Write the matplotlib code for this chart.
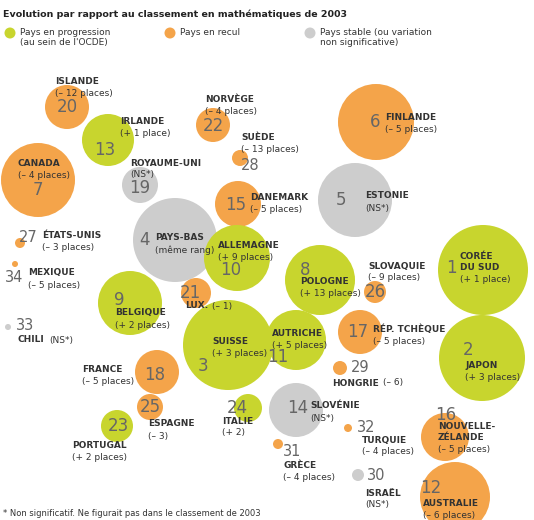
import matplotlib.pyplot as plt
from matplotlib.patches import Circle

# country, 2006 rank, change label, status (up / down / stable)
countries = ["ISLANDE", "IRLANDE", "CANADA", "NORVÈGE", "SUÈDE", "ROYAUME-UNI", "FINLANDE",
             "DANEMARK", "ESTONIE", "ÉTATS-UNIS", "MEXIQUE", "PAYS-BAS", "ALLEMAGNE", "POLOGNE",
             "SLOVAQUIE", "CORÉE\nDU SUD", "BELGIQUE", "LUX.", "CHILI", "SUISSE", "AUTRICHE",
             "RÉP. TCHÈQUE", "JAPON", "FRANCE", "HONGRIE", "ESPAGNE", "ITALIE", "SLOVÉNIE",
             "TURQUIE", "NOUVELLE-\nZÉLANDE", "PORTUGAL", "GRÈCE", "ISRAËL", "AUSTRALIE"]
ranks = [20, 13, 7, 22, 28, 19, 6, 15, 5, 27, 34, 4, 10, 8, 26, 1, 9, 21, 33, 3, 11,
         17, 2, 18, 29, 25, 24, 14, 32, 16, 23, 31, 30, 12]
changes = ["(– 12 places)", "(+ 1 place)", "(– 4 places)", "(– 4 places)", "(– 13 places)", "(NS*)",
           "(– 5 places)", "(– 5 places)", "(NS*)", "(– 3 places)", "(– 5 places)", "(même rang)",
           "(+ 9 places)", "(+ 13 places)", "(– 9 places)", "(+ 1 place)", "(+ 2 places)", "(– 1)",
           "(NS*)", "(+ 3 places)", "(+ 5 places)", "(– 5 places)", "(+ 3 places)", "(– 5 places)",
           "(– 6)", "(– 3)", "(+ 2)", "(NS*)", "(– 4 places)", "(– 5 places)", "(+ 2 places)",
           "(– 4 places)", "(NS*)", "(– 6 places)"]
status = ["down", "up", "down", "down", "down", "stable", "down", "down", "stable", "down", "down",
          "stable", "up", "up", "down", "up", "up", "down", "stable", "up", "up", "down", "up",
          "down", "down", "down", "up", "stable", "down", "down", "up", "down", "stable", "down"]

colors = {"up": "#c8d52e", "down": "#f4a44a", "stable": "#cdcdcd"}

# layout in pixels: bubble centre/radius, number position, label position, inline label
layout = [
    (67, 107, 22, 67, 107, 55, 82, False),
    (108, 140, 26, 105, 150, 120, 122, False),
    (38, 180, 37, 38, 190, 18, 163, False),
    (213, 125, 17, 213, 126, 205, 100, False),
    (240, 158, 8, 250, 165, 241, 138, False),
    (140, 185, 18, 140, 188, 130, 163, False),
    (376, 122, 38, 375, 122, 385, 117, False),
    (238, 204, 23, 236, 205, 250, 198, False),
    (355, 200, 37, 341, 200, 365, 196, False),
    (20, 243, 5, 28, 238, 42, 235, False),
    (15, 264, 3, 14, 277, 28, 273, False),
    (175, 240, 42, 145, 240, 155, 238, False),
    (237, 258, 33, 231, 270, 218, 245, False),
    (320, 280, 35, 305, 270, 300, 282, False),
    (375, 292, 11, 375, 292, 368, 266, False),
    (483, 270, 45, 451, 268, 460, 262, False),
    (130, 303, 32, 119, 300, 115, 313, False),
    (196, 293, 15, 190, 293, 185, 306, True),
    (8, 327, 3, 25, 325, 18, 340, True),
    (228, 345, 45, 203, 366, 212, 341, False),
    (296, 340, 30, 278, 357, 272, 333, False),
    (360, 332, 22, 358, 332, 373, 329, False),
    (482, 358, 43, 468, 350, 465, 366, False),
    (157, 372, 22, 155, 375, 82, 370, False),
    (340, 368, 7, 360, 368, 332, 383, True),
    (150, 407, 13, 150, 407, 148, 424, False),
    (248, 408, 14, 237, 408, 222, 421, False),
    (296, 410, 27, 298, 408, 310, 406, False),
    (348, 428, 4, 366, 427, 362, 440, False),
    (445, 437, 24, 446, 415, 438, 432, False),
    (117, 426, 16, 118, 426, 72, 446, False),
    (278, 444, 5, 292, 452, 283, 466, False),
    (358, 475, 6, 376, 475, 365, 493, False),
    (455, 497, 35, 431, 488, 423, 503, False),
]

fig = plt.figure(figsize=(5.34, 5.20), dpi=100)
ax = fig.add_axes([0, 0, 1, 1])
ax.set_xlim(0, 534)
ax.set_ylim(520, 0)
ax.axis("off")
renderer = fig.canvas.get_renderer()

for name, rk, ch, st, (cx, cy, r, nx, ny, lx, ly, inline) in zip(countries, ranks, changes, status, layout):
    ax.add_patch(Circle((cx, cy), r, color=colors[st], lw=0))
    fs = 12 if r > 10 else 10.5
    ax.text(nx, ny, str(rk), fontsize=fs, color="#666666", ha="center", va="center")
    t = ax.text(lx, ly, name, fontsize=6.5, fontweight="bold", color="#333333", va="center",
                linespacing=1.15)
    if inline:
        w = t.get_window_extent(renderer).width
        ax.text(lx + w + 4, ly, ch, fontsize=6.5, color="#333333", va="center")
    else:
        nlines = name.count("\n") + 1
        ax.text(lx, ly + 5.5 * (nlines - 1) + 12, ch, fontsize=6.5, color="#333333", va="center")

# header and legend
ax.text(3, 14, "Evolution par rapport au classement en mathématiques de 2003",
        fontsize=6.8, fontweight="bold", color="#222222", va="center")
legend = [("up", 10, "Pays en progression\n(au sein de l'OCDE)"),
          ("down", 170, "Pays en recul"),
          ("stable", 310, "Pays stable (ou variation\nnon significative)")]
for st, x, txt in legend:
    ax.add_patch(Circle((x, 33), 5.5, color=colors[st], lw=0))
    ax.text(x + 10, 28, txt, fontsize=6.5, color="#333333", va="top", linespacing=1.2)

ax.text(3, 514, "* Non significatif. Ne figurait pas dans le classement de 2003",
        fontsize=6, color="#333333", va="center")

fig.savefig("out.png", dpi=100)
